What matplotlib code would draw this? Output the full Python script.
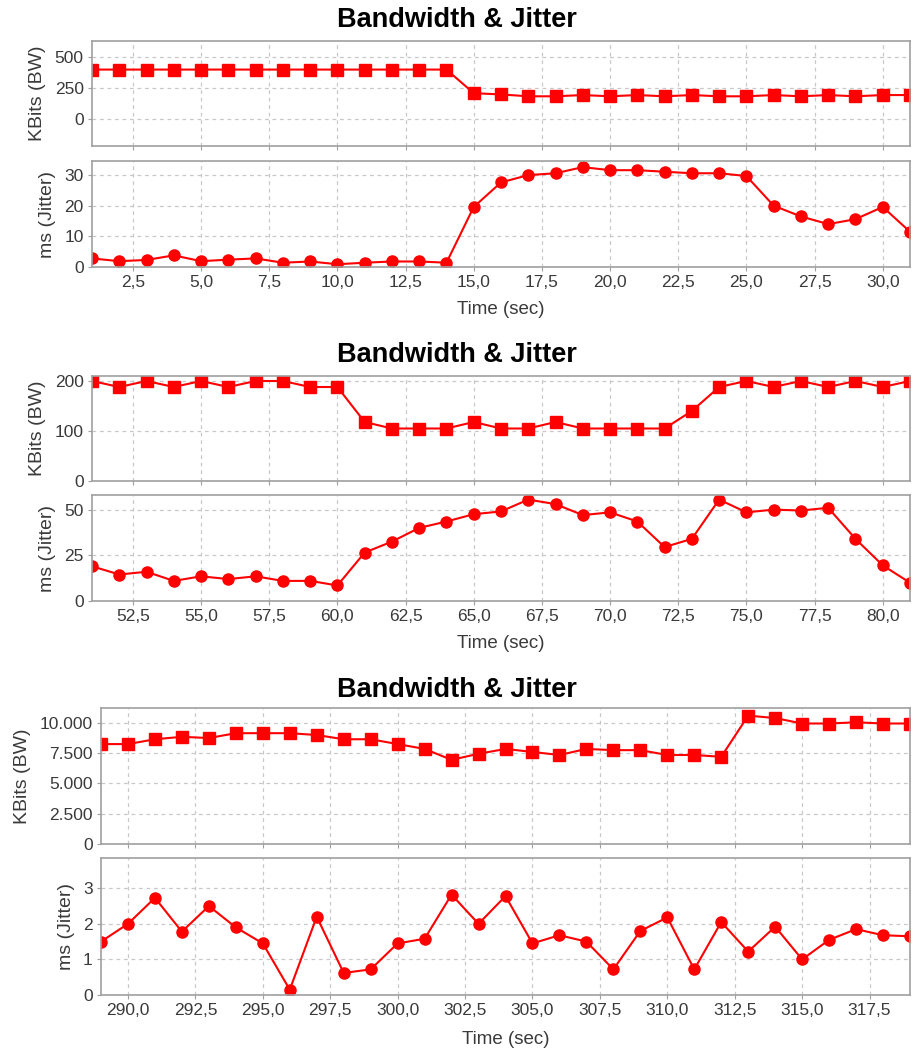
import matplotlib
matplotlib.use("Agg")
import matplotlib.pyplot as plt
from matplotlib.ticker import FuncFormatter, MultipleLocator

plt.rcParams['font.family'] = ['Liberation Sans', 'DejaVu Sans']

# ---- data ----
time1 = list(range(1, 32))
bw1 = [400] * 14 + [210, 200, 185, 185, 195, 185, 195, 185, 195, 185, 185,
                    195, 185, 195, 185, 195, 195]
jit1 = [2.8, 1.9, 2.3, 3.8, 1.9, 2.4, 2.8, 1.4, 1.8, 0.9, 1.4, 1.8, 1.8, 1.4,
        19.6, 27.6, 30.0, 30.6, 32.6, 31.6, 31.6, 31.1, 30.6, 30.6, 29.7,
        20.0, 16.5, 14.0, 15.6, 19.6, 11.5]

time2 = list(range(51, 82))
bw2 = [200, 188, 200, 188, 200, 188, 200, 200, 188, 188, 118, 105, 105, 105,
       118, 105, 105, 118, 105, 105, 105, 105, 140, 188, 200, 188, 200, 188,
       200, 188, 200]
jit2 = [19, 14.5, 16, 11, 13.5, 12, 13.5, 11, 11, 8.5, 26.5, 32.5, 40, 43.5,
        47.5, 49, 55.5, 53, 47, 48.5, 43.5, 29.5, 34, 55.5, 48.5, 50, 49.5,
        51, 34, 19.5, 10]

time3 = list(range(289, 320))
bw3 = [8250, 8250, 8650, 8850, 8750, 9150, 9150, 9150, 9000, 8650, 8650,
       8250, 7850, 6950, 7450, 7850, 7600, 7350, 7850, 7750, 7750, 7350,
       7350, 7200, 10600, 10400, 9950, 9950, 10050, 9950, 9950]
jit3 = [1.5, 2.0, 2.73, 1.78, 2.5, 1.9, 1.45, 0.15, 2.2, 0.62, 0.72, 1.45,
        1.58, 2.82, 2.0, 2.78, 1.45, 1.68, 1.5, 0.72, 1.8, 2.18, 0.72, 2.05,
        1.22, 1.92, 1.0, 1.55, 1.85, 1.68, 1.65]

W, H = 914, 1052
RED = '#ff0000'
TXT = '#3a3a3a'


def fx(px):
  return px / W


def fy(py):
  return 1 - py / H


def comma_dec(v, pos):
  return '{:.1f}'.format(v).replace('.', ',')


def dot_thousands(v, pos):
  return '{:,.0f}'.format(v).replace(',', '.')


def style(ax):
  ax.grid(True, color='#c8c8c8', linestyle=(0, (3, 3)), linewidth=0.9)
  ax.set_axisbelow(True)
  for s in ax.spines.values():
    s.set_color('#a0a0a0')
    s.set_linewidth(1.2)
  ax.tick_params(colors='#a0a0a0', labelcolor=TXT, labelsize=12.5,
                 length=3, width=0.8, pad=3)


def panel(x, bw, jit, left, title_y, bw_box, jit_box, xlabel_y, xlim,
          bw_lim, bw_step, jit_lim, jit_step, bw_fmt=None):
  l = fx(left)
  w = fx(910) - l
  # title_y is the baseline of the title, in pixels from the top
  fig.text(0.5, fy(title_y), 'Bandwidth & Jitter',
           ha='center', va='baseline', fontsize=19.5, fontweight='bold')
  ax1 = fig.add_axes([l, fy(bw_box[1]), w, fy(bw_box[0]) - fy(bw_box[1])])
  ax2 = fig.add_axes([l, fy(jit_box[1]), w, fy(jit_box[0]) - fy(jit_box[1])],
                     sharex=ax1)
  ax1.plot(x, bw, '-s', color=RED, markersize=8, linewidth=1.5)
  ax2.plot(x, jit, '-o', color=RED, markersize=8, linewidth=1.5)
  ax1.set_xlim(*xlim)
  ax1.xaxis.set_major_locator(MultipleLocator(2.5))
  ax1.xaxis.set_major_formatter(FuncFormatter(comma_dec))
  ax1.set_ylim(*bw_lim)
  ax1.yaxis.set_major_locator(MultipleLocator(bw_step))
  if bw_fmt is not None:
    ax1.yaxis.set_major_formatter(FuncFormatter(bw_fmt))
  ax2.set_ylim(*jit_lim)
  ax2.yaxis.set_major_locator(MultipleLocator(jit_step))
  ax1.tick_params(axis='x', labelbottom=False)
  for ax in (ax1, ax2):
    style(ax)
  ax1.set_ylabel('KBits (BW)', fontsize=14, color=TXT, labelpad=6)
  ax2.set_ylabel('ms (Jitter)', fontsize=14, color=TXT, labelpad=6)
  fig.text(l + w / 2, fy(xlabel_y), 'Time (sec)', ha='center', va='center',
           fontsize=13.5, color=TXT)
  return ax1, ax2


fig = plt.figure(figsize=(W / 100, H / 100), dpi=100)

panel(time1, bw1, jit1, 92, 27, (41, 146), (161, 267), 310, (1, 31),
      (-215, 630), 250, (0, 34.6), 10)
panel(time2, bw2, jit2, 92, 362, (376, 481), (495, 601), 643, (51, 81),
      (0, 210), 100, (0, 58), 25)
panel(time3, bw3, jit3, 101, 697, (708, 844), (858, 995), 1040, (289, 319),
      (0, 11230), 2500, (0, 3.85), 1, bw_fmt=dot_thousands)

fig.savefig('out.png', dpi=100)
